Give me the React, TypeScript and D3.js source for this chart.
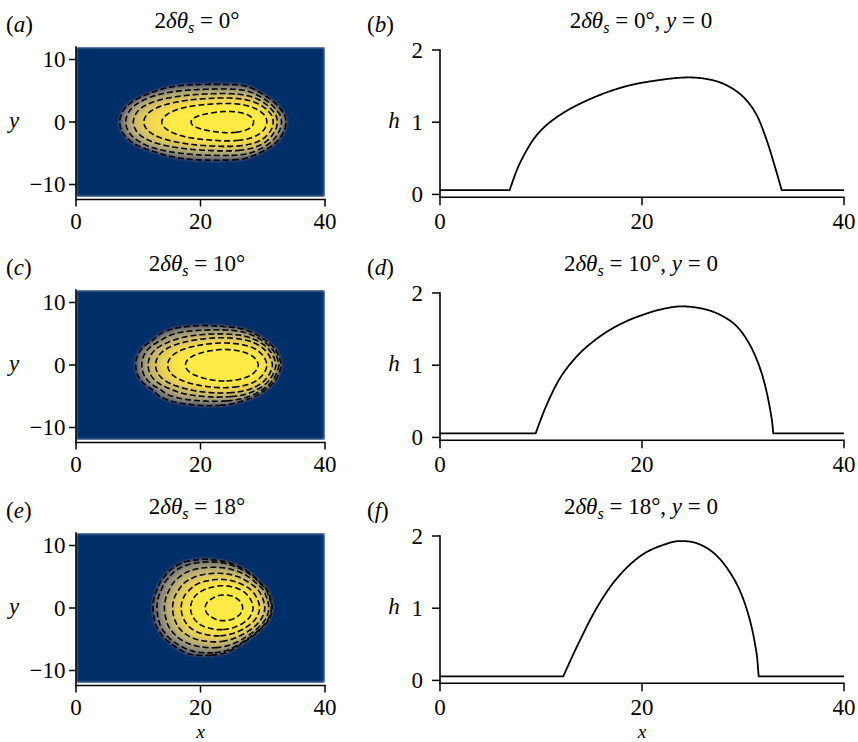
import React, { useMemo } from "react";
import * as d3 from "d3";

// ---------------- data ----------------
const ANGLES = [0, 10, 18];
const LEFT_LETTERS = ["a", "c", "e"];
const RIGHT_LETTERS = ["b", "d", "f"];
const PRECURSOR = [0.06, 0.056, 0.055];

const X_TICKS = [0, 20, 40];
const Y_TICKS_MAP = [-10, 0, 10];
const H_TICKS = [0, 1, 2];

// centre-line profiles h(x, y = 0)
const profileXA = [6.9, 7.9, 9.57, 11.88, 15.18, 18.48, 21.78, 24.6, 26.73, 28.4, 30.03, 31.35, 32.35, 33.17, 33.83];
const profileHA = [0.06, 0.43, 0.82, 1.1, 1.34, 1.5, 1.585, 1.62, 1.59, 1.51, 1.35, 1.1, 0.75, 0.38, 0.06];

const profileXC = [9.47, 10.56, 11.88, 13.53, 15.18, 16.83, 18.48, 20.13, 21.78, 23.93, 26.07, 27.7, 29.37, 30.69, 31.68, 32.34, 32.84, 33.0];
const profileHC = [0.056, 0.45, 0.82, 1.12, 1.33, 1.49, 1.61, 1.7, 1.77, 1.815, 1.78, 1.7, 1.54, 1.28, 0.96, 0.63, 0.26, 0.056];

const profileXE = [12.2, 13.53, 15.18, 16.83, 18.48, 20.13, 21.78, 23.76, 25.41, 27.06, 28.4, 29.7, 30.69, 31.35, 31.55];
const profileHE = [0.055, 0.46, 0.92, 1.29, 1.56, 1.75, 1.86, 1.93, 1.9, 1.77, 1.56, 1.24, 0.83, 0.37, 0.055];

// drop footprint: left / right contact line x for |y| (upper half and lower half)
const topYA = [0, 1, 2, 3, 4, 5, 5.5, 6, 6.1];
const topLeftA = [6.9, 7.1, 7.6, 8.6, 10.3, 12.8, 14.5, 18.0, 22.0];
const topRightA = [33.83, 33.65, 33.0, 32.1, 30.8, 29.2, 28.2, 26.0, 22.0];
const botYA = [0, 1, 2, 3, 4, 5, 5.5, 6, 6.2];
const botLeftA = [6.9, 7.1, 7.6, 8.6, 10.3, 13.2, 15.0, 18.0, 22.0];
const botRightA = [33.83, 33.65, 33.2, 32.5, 31.3, 29.5, 28.3, 26.4, 22.0];

const topYC = [0, 1, 2, 3, 4, 5, 5.5, 6, 6.4];
const topLeftC = [9.47, 9.6, 10.0, 10.8, 12.2, 13.4, 14.4, 16.2, 20.0];
const topRightC = [33.0, 32.75, 32.3, 31.6, 30.4, 28.8, 27.6, 25.5, 20.0];
const botYC = [0, 1, 2, 3, 4, 5, 6, 6.4, 6.6];
const botLeftC = [9.47, 9.6, 10.0, 10.8, 12.2, 13.3, 15.8, 18.5, 20.5];
const botRightC = [33.0, 32.75, 32.3, 31.6, 30.4, 28.8, 26.0, 24.0, 20.5];

const topYE = [0, 1, 2, 3, 4, 5, 6, 7, 7.5, 7.9];
const topLeftE = [12.2, 12.3, 12.5, 12.9, 13.3, 14.0, 14.8, 16.3, 17.5, 20.5];
const topRightE = [31.55, 31.4, 31.1, 30.65, 29.7, 28.7, 27.3, 25.3, 23.6, 20.5];
const botYE = [0, 1, 2, 3, 4, 5, 6, 7, 7.4, 7.7];
const botLeftE = [12.2, 12.3, 12.5, 12.8, 13.4, 14.2, 15.5, 17.0, 17.8, 20.5];
const botRightE = [31.55, 31.35, 30.9, 30.1, 29.0, 27.7, 26.2, 24.5, 23.2, 20.5];

// contour levels of h
const LEVELS_A = [0.1, 0.45, 0.75, 1.0, 1.25, 1.5];
const LEVELS_C = [0.1, 0.45, 0.75, 1.0, 1.28, 1.55];
const LEVELS_E = [0.1, 0.3, 0.65, 1.0, 1.3, 1.55, 1.8];

// ---------------- layout ----------------
const W = 858;
const H = 742;
const ROW = 243;
const FONT = "'Liberation Serif', 'Times New Roman', Times, serif";
const FS = 23;
const XLABEL_FS = 19.5;

const NX = 400;
const NY = 240;
const X0 = 0, X1 = 40, YMIN = -12, YMAX = 12;

// smooth cubic Hermite interpolation through the read points
function spline(xs: number[], ys: number[]) {
  const n = xs.length;
  const hs: number[] = [];
  const d: number[] = [];
  for (let i = 0; i < n - 1; i++) {
    hs.push(xs[i + 1] - xs[i]);
    d.push((ys[i + 1] - ys[i]) / hs[i]);
  }
  const m: number[] = new Array(n).fill(0);
  for (let i = 1; i < n - 1; i++) {
    if (d[i - 1] * d[i] <= 0) m[i] = 0;
    else m[i] = (ys[i + 1] - ys[i - 1]) / (xs[i + 1] - xs[i - 1]);
  }
  m[0] = n > 2 ? (3 * d[0] - m[1]) / 2 : d[0];
  m[n - 1] = n > 2 ? (3 * d[n - 2] - m[n - 2]) / 2 : d[n - 2];
  return (x: number) => {
    if (x <= xs[0]) return ys[0];
    if (x >= xs[n - 1]) return ys[n - 1];
    let i = d3.bisectRight(xs, x) - 1;
    if (i > n - 2) i = n - 2;
    const h = hs[i];
    const t = (x - xs[i]) / h;
    const t2 = t * t, t3 = t2 * t;
    return (2 * t3 - 3 * t2 + 1) * ys[i] + (t3 - 2 * t2 + t) * h * m[i] + (-2 * t3 + 3 * t2) * ys[i + 1] + (t3 - t2) * h * m[i + 1];
  };
}

const PANELS = [
  { angle: ANGLES[0], lt: LEFT_LETTERS[0], rt: RIGHT_LETTERS[0], hp: PRECURSOR[0], px: profileXA, ph: profileHA,
    top: [topYA, topLeftA, topRightA], bot: [botYA, botLeftA, botRightA], levels: LEVELS_A },
  { angle: ANGLES[1], lt: LEFT_LETTERS[1], rt: RIGHT_LETTERS[1], hp: PRECURSOR[1], px: profileXC, ph: profileHC,
    top: [topYC, topLeftC, topRightC], bot: [botYC, botLeftC, botRightC], levels: LEVELS_C },
  { angle: ANGLES[2], lt: LEFT_LETTERS[2], rt: RIGHT_LETTERS[2], hp: PRECURSOR[2], px: profileXE, ph: profileHE,
    top: [topYE, topLeftE, topRightE], bot: [botYE, botLeftE, botRightE], levels: LEVELS_E },
];

const LUT = d3.range(256).map((i) => d3.rgb(d3.interpolateCividis(i / 255)));

function buildField(p: typeof PANELS[number]) {
  const hc = spline(p.px, p.ph);
  const c0 = p.px[0], c1 = p.px[p.px.length - 1];
  const halves = [p.top, p.bot].map(([ys, ls, rs]) => ({
    ymax: ys[ys.length - 1],
    xl: spline(ys, ls),
    xr: spline(ys, rs),
  }));
  const values = new Float64Array(NX * NY);
  const dx = (X1 - X0) / NX, dy = (YMAX - YMIN) / NY;
  for (let j = 0; j < NY; j++) {
    const y = YMAX - (j + 0.5) * dy;
    const half = y >= 0 ? halves[0] : halves[1];
    const ay = Math.abs(y);
    for (let i = 0; i < NX; i++) {
      const x = X0 + (i + 0.5) * dx;
      let h = p.hp;
      if (ay < half.ymax) {
        const xl = half.xl(ay), xr = half.xr(ay);
        if (x > xl && x < xr && xr > xl) {
          const xp = c0 + ((x - xl) / (xr - xl)) * (c1 - c0);
          const A = 1 - (ay / half.ymax) * (ay / half.ymax);
          h = p.hp + Math.max(0, hc(xp) - p.hp) * A;
        }
      }
      values[j * NX + i] = h;
    }
  }
  return values;
}

function fieldImage(values: Float64Array, hp: number, hmax: number) {
  const canvas = document.createElement("canvas");
  canvas.width = NX;
  canvas.height = NY;
  const ctx = canvas.getContext("2d")!;
  const img = ctx.createImageData(NX, NY);
  const vmax = 0.82 * hmax;
  for (let k = 0; k < NX * NY; k++) {
    let t = (values[k] - hp) / (vmax - hp);
    t = Math.max(0, Math.min(1, t));
    t = 0.075 + 0.925 * Math.pow(t, 0.45);
    const c = LUT[Math.round(t * 255)];
    img.data[4 * k] = c.r;
    img.data[4 * k + 1] = c.g;
    img.data[4 * k + 2] = c.b;
    img.data[4 * k + 3] = 255;
  }
  ctx.putImageData(img, 0, 0);
  return canvas.toDataURL();
}

function Title({ x, y, angle, withY }: { x: number; y: number; angle: number; withY: boolean }) {
  return (
    <text x={x} y={y} textAnchor="middle" fontSize={FS} fontFamily={FONT}>
      2<tspan fontStyle="italic">δθ</tspan>
      <tspan fontStyle="italic" fontSize={FS * 0.7} dy={5}>s</tspan>
      <tspan dy={-5}>{` = ${angle}°`}</tspan>
      {withY ? (
        <>
          <tspan>{", "}</tspan>
          <tspan fontStyle="italic">y</tspan>
          <tspan>{" = 0"}</tspan>
        </>
      ) : null}
    </text>
  );
}

function MapPanel({ p, row }: { p: typeof PANELS[number]; row: number }) {
  const off = row * ROW;
  const xs = d3.scaleLinear().domain([0, 40]).range([76, 325]);
  const ys = d3.scaleLinear().domain([-12.4, 12]).range([199.5 + off, 47 + off]);
  const { url, paths } = useMemo(() => {
    const values = buildField(p);
    const hmax = d3.max(p.ph)!;
    const url = fieldImage(values, p.hp, hmax);
    const dx = (X1 - X0) / NX, dy = (YMAX - YMIN) / NY;
    const proj = d3.geoTransform({
      point(this: any, gx: number, gy: number) {
        this.stream.point(xs(X0 + gx * dx), ys(YMAX - gy * dy));
      },
    });
    const path = d3.geoPath(proj);
    const cs = d3.contours().size([NX, NY]).thresholds(p.levels)(Array.from(values));
    return { url, paths: cs.map((c) => path(c as any) || "") };
  }, [row]);
  const fid = `blur${row}`;
  const cid = `clip${row}`;
  const yBottom = ys(-12.4);
  return (
    <g>
      <defs>
        <filter id={fid} x="0" y="0" width="1" height="1">
          <feGaussianBlur stdDeviation="1.7" edgeMode="duplicate" />
        </filter>
        <clipPath id={cid}>
          <rect x={xs(0)} y={ys(12)} width={xs(40) - xs(0)} height={ys(-12) - ys(12)} />
        </clipPath>
      </defs>
      <image
        href={url}
        x={xs(0)}
        y={ys(12)}
        width={xs(40) - xs(0)}
        height={ys(-12) - ys(12)}
        preserveAspectRatio="none"
        filter={`url(#${fid})`}
      />
      <g clipPath={`url(#${cid})`}>
        {paths.map((d, i) => (
          <path key={i} d={d} fill="none" stroke="#000" strokeWidth={1.6} strokeDasharray="6,3" />
        ))}
      </g>
      <line x1={xs(0)} x2={xs(0)} y1={ys(12)} y2={yBottom} stroke="#000" strokeWidth={1.6} strokeLinecap="square" />
      <line x1={xs(0)} x2={xs(40)} y1={yBottom} y2={yBottom} stroke="#000" strokeWidth={1.6} strokeLinecap="square" />
      {Y_TICKS_MAP.map((t) => (
        <g key={t}>
          <line x1={xs(0) - 7} x2={xs(0)} y1={ys(t)} y2={ys(t)} stroke="#000" strokeWidth={1.5} />
          <text x={xs(0) - 10.5} y={ys(t) + 7.8} textAnchor="end" fontSize={FS} fontFamily={FONT}>
            {t < 0 ? `\u2212${Math.abs(t)}` : `${t}`}
          </text>
        </g>
      ))}
      {X_TICKS.map((t) => (
        <g key={t}>
          <line x1={xs(t)} x2={xs(t)} y1={yBottom} y2={yBottom + 7} stroke="#000" strokeWidth={1.5} />
          <text x={xs(t)} y={229 + off} textAnchor="middle" fontSize={FS} fontFamily={FONT}>
            {t}
          </text>
        </g>
      ))}
      <text x={14} y={128 + off} textAnchor="middle" fontSize={FS} fontFamily={FONT} fontStyle="italic">
        y
      </text>
      <text x={6} y={32 + off} fontSize={FS} fontFamily={FONT}>
        (<tspan fontStyle="italic">{p.lt}</tspan>)
      </text>
      <Title x={197} y={28 + off} angle={p.angle} withY={false} />
      {row === 2 ? (
        <text x={200.5} y={737.5} textAnchor="middle" fontSize={XLABEL_FS} fontFamily={FONT} fontStyle="italic">
          x
        </text>
      ) : null}
    </g>
  );
}

function ProfilePanel({ p, row }: { p: typeof PANELS[number]; row: number }) {
  const off = row * ROW;
  const xs = d3.scaleLinear().domain([0, 40]).range([440, 844]);
  const ys = d3.scaleLinear().domain([-0.04, 2]).range([197.3 + off, 50 + off]);
  const d = useMemo(() => {
    const hc = spline(p.px, p.ph);
    const c0 = p.px[0], c1 = p.px[p.px.length - 1];
    const pts: [number, number][] = [[0, p.hp]];
    const N = 400;
    for (let k = 0; k <= N; k++) {
      const x = c0 + ((c1 - c0) * k) / N;
      pts.push([x, hc(x)]);
    }
    pts.push([40, p.hp]);
    return d3.line<[number, number]>().x((q) => xs(q[0])).y((q) => ys(q[1]))(pts) || "";
  }, [row]);
  const yBottom = ys(-0.04);
  return (
    <g>
      <path d={d} fill="none" stroke="#000" strokeWidth={1.8} strokeLinejoin="round" />
      <line x1={xs(0)} x2={xs(0)} y1={ys(2)} y2={yBottom} stroke="#000" strokeWidth={1.6} strokeLinecap="square" />
      <line x1={xs(0)} x2={xs(40)} y1={yBottom} y2={yBottom} stroke="#000" strokeWidth={1.6} strokeLinecap="square" />
      {H_TICKS.map((t) => (
        <g key={t}>
          <line x1={xs(0) - 8} x2={xs(0)} y1={ys(t)} y2={ys(t)} stroke="#000" strokeWidth={1.5} />
          <text x={423} y={ys(t) + 7.8} textAnchor="end" fontSize={FS} fontFamily={FONT}>
            {t}
          </text>
        </g>
      ))}
      {X_TICKS.map((t) => (
        <g key={t}>
          <line x1={xs(t)} x2={xs(t)} y1={yBottom} y2={yBottom + 8} stroke="#000" strokeWidth={1.5} />
          <text x={xs(t)} y={229 + off} textAnchor="middle" fontSize={FS} fontFamily={FONT}>
            {t}
          </text>
        </g>
      ))}
      <text x={394} y={128 + off} textAnchor="middle" fontSize={FS} fontFamily={FONT} fontStyle="italic">
        h
      </text>
      <text x={367} y={32 + off} fontSize={FS} fontFamily={FONT}>
        (<tspan fontStyle="italic">{p.rt}</tspan>)
      </text>
      <Title x={641} y={28 + off} angle={p.angle} withY={true} />
      {row === 2 ? (
        <text x={642} y={737.5} textAnchor="middle" fontSize={XLABEL_FS} fontFamily={FONT} fontStyle="italic">
          x
        </text>
      ) : null}
    </g>
  );
}

export default function App() {
  return (
    <svg
      width={W}
      height={H}
      viewBox={`0 0 ${W} ${H}`}
      style={{ position: "absolute", left: 0, top: 0, background: "#fff" }}
    >
      <rect x={0} y={0} width={W} height={H} fill="#fff" />
      {PANELS.map((p, i) => (
        <g key={i}>
          <MapPanel p={p} row={i} />
          <ProfilePanel p={p} row={i} />
        </g>
      ))}
    </svg>
  );
}
